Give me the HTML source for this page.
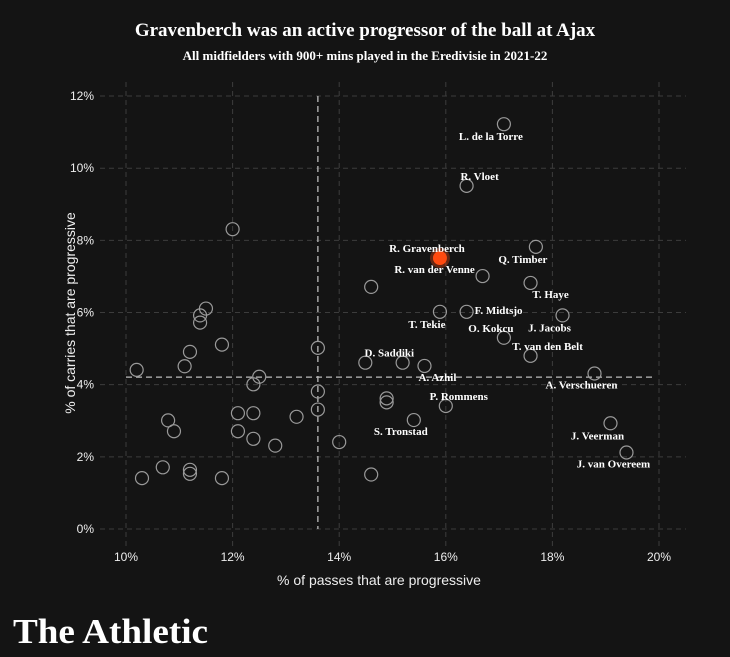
<!DOCTYPE html>
<html><head><meta charset="utf-8"><style>
html,body{margin:0;padding:0;background:#141414;}
svg{display:block;}
</style></head><body>
<svg id="chart" width="730" height="657" viewBox="0 0 730 657" xmlns="http://www.w3.org/2000/svg">
<rect x="0" y="0" width="730" height="657" fill="#141414"/>
<text x="365" y="36" text-anchor="middle" fill="#fff" font-family="Liberation Serif, serif" font-weight="bold" font-size="19">Gravenberch was an active progressor of the ball at Ajax</text>
<text x="365" y="60" text-anchor="middle" fill="#fff" font-family="Liberation Serif, serif" font-weight="bold" font-size="13">All midfielders with 900+ mins played in the Eredivisie in 2021-22</text>
<g id="grid"></g>
<g id="medians"></g>
<g id="points"></g>
<g id="labels"></g>
<text x="379" y="585" text-anchor="middle" fill="#eee" font-family="Liberation Sans, sans-serif" font-size="14">% of passes that are progressive</text>
<text transform="translate(75,313) rotate(-90)" text-anchor="middle" fill="#eee" font-family="Liberation Sans, sans-serif" font-size="14">% of carries that are progressive</text>
<text x="13" y="643" fill="#fff" font-family="Liberation Serif, serif" font-weight="bold" font-size="35" textLength="195" lengthAdjust="spacingAndGlyphs">The Athletic</text>
</svg>
<script>
const xTicks=[10,12,14,16,18,20];
const yTicks=[0,2,4,6,8,10,12];
const xTickLabels=["10%","12%","14%","16%","18%","20%"];
const yTickLabels=["0%","2%","4%","6%","8%","10%","12%"];
const passPct=[12.0,14.6,11.5,11.39,11.39,11.8,11.2,13.6,10.2,11.1,12.5,12.39,14.49,15.19,13.6,13.6,14.89,14.89,10.79,10.9,12.1,12.39,13.2,12.1,12.39,12.8,14.0,15.4,10.69,10.3,11.2,11.2,11.8,14.6,17.09,16.39,17.69,16.69,17.59,15.89,16.39,18.19,17.09,17.59,15.6,18.79,16.0,19.09,19.39];
const carryPct=[8.31,6.71,6.11,5.92,5.72,5.11,4.91,5.02,4.41,4.51,4.22,4.01,4.61,4.61,3.81,3.31,3.62,3.51,3.01,2.71,3.21,3.21,3.11,2.71,2.50,2.31,2.41,3.02,1.71,1.41,1.64,1.53,1.41,1.51,11.22,9.51,7.82,7.01,6.82,6.02,6.02,5.92,5.30,4.80,4.52,4.31,3.41,2.93,2.12];
const names=["","","","","","","","","","","","","D. Saddiki","","","","","","","","","","","","","","","S. Tronstad","","","","","","","L. de la Torre","R. Vloet","Q. Timber","R. van der Venne","T. Haye","T. Tekie","F. Midtsjo","J. Jacobs","O. Kokcu","T. van den Belt","A. Azhil","A. Verschueren","P. Rommens","J. Veerman","J. van Overeem"];
const highlight={name:"R. Gravenberch",pass:15.89,carry:7.51};
const medianPass=13.6;
const medianCarry=4.21;
const labelOffsets={"D. Saddiki":[24,-10],"S. Tronstad":[-13,11],"L. de la Torre":[-13,12],"R. Vloet":[13,-10],"Q. Timber":[-13,12],"R. van der Venne":[-48,-7],"T. Haye":[20,11],"T. Tekie":[-13,12],"F. Midtsjo":[32,-2],"J. Jacobs":[-13,12],"O. Kokcu":[-13,-10],"T. van den Belt":[17,-10],"A. Azhil":[13,11],"A. Verschueren":[-13,11],"P. Rommens":[13,-10],"J. Veerman":[-13,12],"J. van Overeem":[-13,11],"R. Gravenberch":[-13,-10]};
const NS="http://www.w3.org/2000/svg";
function xs(v){return 126+(v-10)*53.3;}
function ys(v){return 529-v*36.08;}
function mk(tag,attrs,parent){const e=document.createElementNS(NS,tag);for(const k in attrs)e.setAttribute(k,attrs[k]);parent.appendChild(e);return e;}
const grid=document.getElementById('grid');
xTicks.forEach((t,i)=>{
  const l=mk('line',{x1:xs(t),x2:xs(t),y1:82,y2:547,stroke:'#3c3c3c','stroke-width':1,'stroke-dasharray':'5,4'},grid);
  
  
  const tx=mk('text',{x:xs(t),y:561,'text-anchor':'middle',fill:'#eee','font-family':'Liberation Sans, sans-serif','font-size':12},grid);
  
  
  tx.textContent=xTickLabels[i];
});
yTicks.forEach((t,i)=>{
  const l=mk('line',{x1:100,x2:686,y1:ys(t),y2:ys(t),stroke:'#3c3c3c','stroke-width':1,'stroke-dasharray':'5,4'},grid);
  
  
  const tx=mk('text',{x:94,y:ys(t)+4,'text-anchor':'end',fill:'#eee','font-family':'Liberation Sans, sans-serif','font-size':12},grid);
  
  
  tx.textContent=yTickLabels[i];
});
const med=document.getElementById('medians');
const mv=mk('line',{x1:xs(medianPass),x2:xs(medianPass),y1:ys(12),y2:ys(0),stroke:'#bbb','stroke-width':1.3,'stroke-dasharray':'6,4'},med);


const mh=mk('line',{x1:xs(10),x2:xs(19.9),y1:ys(medianCarry),y2:ys(medianCarry),stroke:'#bbb','stroke-width':1.3,'stroke-dasharray':'6,4'},med);


const pts=document.getElementById('points');
const lbl=document.getElementById('labels');
function addLabel(name,px,py){
  const o=labelOffsets[name]||[0,-12];
  const t=mk('text',{x:px+o[0],y:py+o[1]+4,'text-anchor':'middle',fill:'#fff','font-family':'Liberation Serif, serif','font-weight':'bold','font-size':11},lbl);
  
  
  t.textContent=name;
}
passPct.forEach((p,i)=>{
  const cx=xs(p),cy=ys(carryPct[i]);
  const c=mk('circle',{cx:cx,cy:cy,r:6.5,fill:'none',stroke:'#9a9a9a','stroke-width':1.2},pts);
  
  
  if(names[i])addLabel(names[i],cx,cy);
});
const hx=xs(highlight.pass),hy=ys(highlight.carry);
const g=mk('circle',{cx:hx,cy:hy,r:10,fill:'#ff4a10',opacity:0.35},pts);


const h=mk('circle',{cx:hx,cy:hy,r:7,fill:'#ff4a10'},pts);


addLabel(highlight.name,hx,hy);
</script>
</body></html>
